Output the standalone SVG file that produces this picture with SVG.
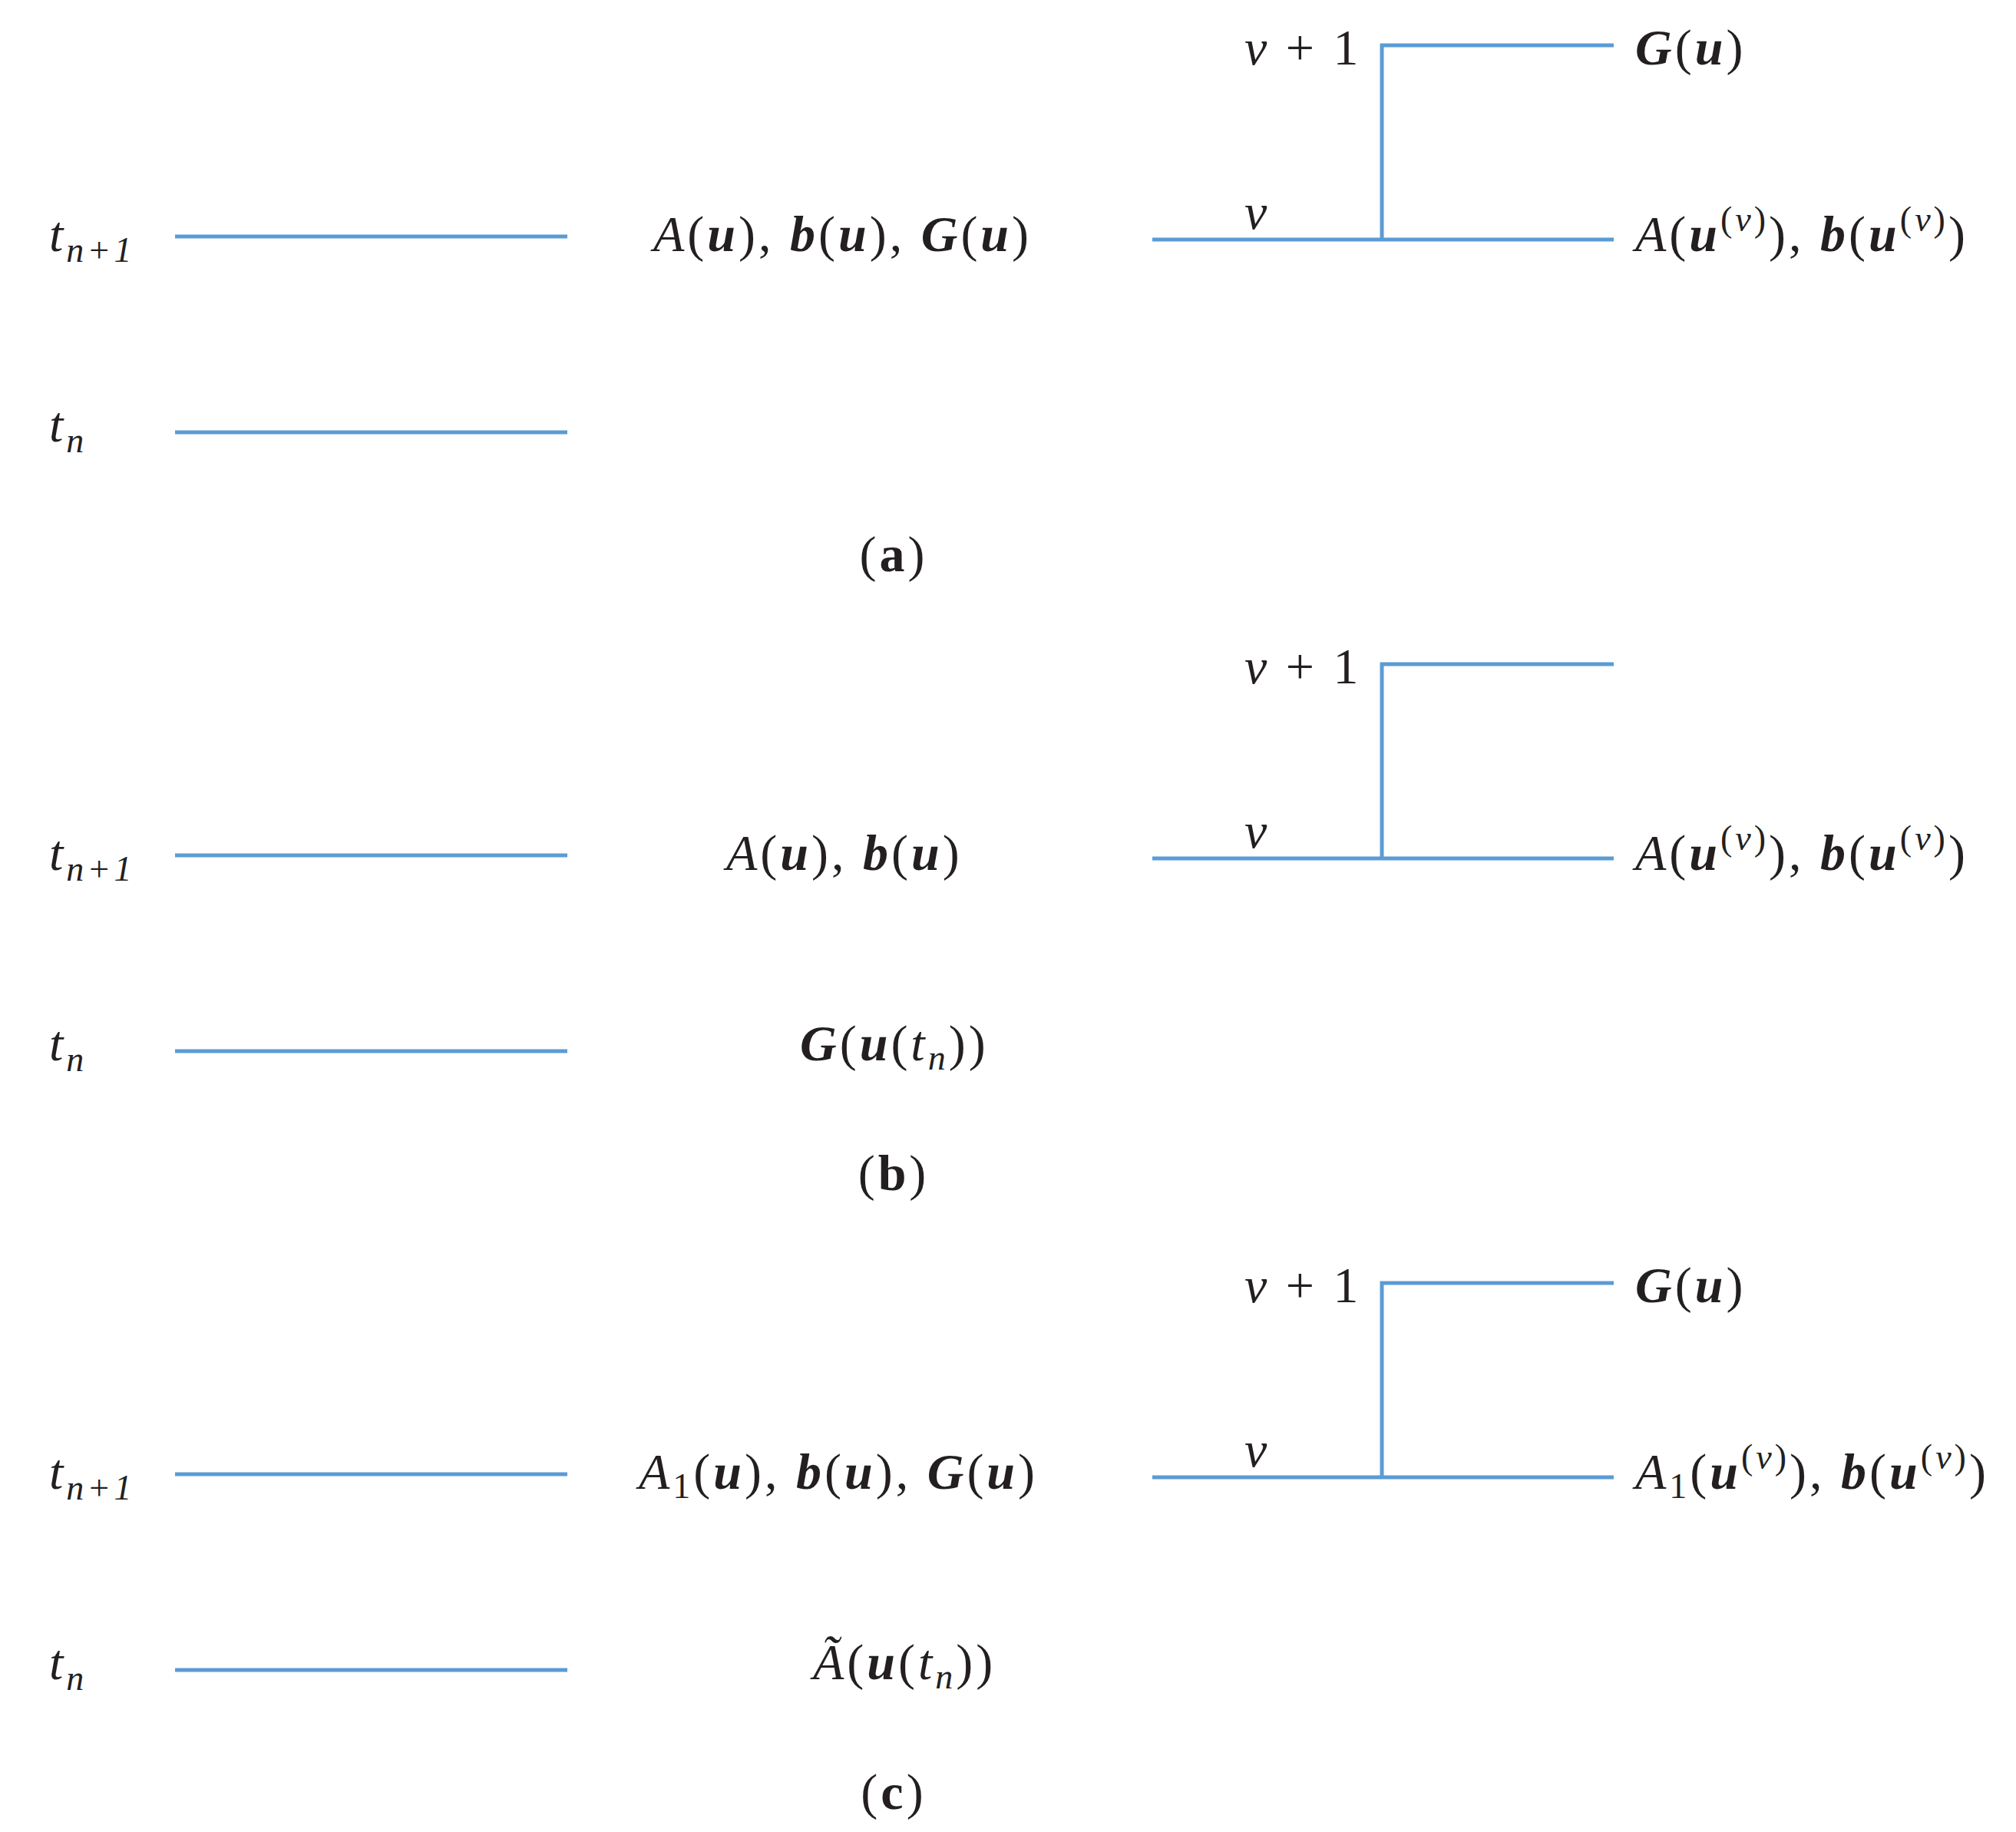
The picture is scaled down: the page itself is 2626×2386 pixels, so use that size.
<svg xmlns="http://www.w3.org/2000/svg" width="2626" height="2386" viewBox="0 0 2626 2386">
<style>
.ln{stroke:#5b9bd5;stroke-width:5;fill:none}
text{font-family:"Liberation Serif","DejaVu Serif",serif;font-size:66px;fill:#231f20;letter-spacing:4px}
.i{font-style:italic}
.b{font-weight:bold;font-style:italic}
.bu{font-weight:bold}
.s{font-size:46px}
</style>
<rect width="2626" height="2386" fill="#fff"/>
<defs>
<g id="frame">
<path class="ln" d="M228 308H739M228 563H739M1501 312H2102M1800 312V59H2102"/>
<text x="64" y="327" class="i">t<tspan class="s" dy="14">n+1</tspan></text>
<text x="64" y="575" class="i">t<tspan class="s" dy="14">n</tspan></text>
<text x="1621" y="84"><tspan class="i">ν</tspan> + 1</text>
<text x="1621" y="298" class="i">ν</text>
</g>
</defs>
<g id="connectors">
<use href="#frame"/>
<use href="#frame" y="806"/>
<use href="#frame" y="1612"/>
</g>
<g id="panel-a">
<text x="851" y="327"><tspan class="i">A</tspan>(<tspan class="b">u</tspan>), <tspan class="b">b</tspan>(<tspan class="b">u</tspan>), <tspan class="b">G</tspan>(<tspan class="b">u</tspan>)</text>
<text x="2130" y="84"><tspan class="b">G</tspan>(<tspan class="b">u</tspan>)</text>
<text x="2130" y="327"><tspan class="i">A</tspan>(<tspan class="b">u</tspan><tspan class="s" dy="-26">(<tspan class="i">ν</tspan>)</tspan><tspan dy="26">), </tspan><tspan class="b">b</tspan>(<tspan class="b">u</tspan><tspan class="s" dy="-26">(<tspan class="i">ν</tspan>)</tspan><tspan dy="26">)</tspan></text>
<text x="1164" y="744" text-anchor="middle">(<tspan class="bu">a</tspan>)</text>
</g>
<g id="panel-b">
<text x="946" y="1133"><tspan class="i">A</tspan>(<tspan class="b">u</tspan>), <tspan class="b">b</tspan>(<tspan class="b">u</tspan>)</text>
<text x="2130" y="1133"><tspan class="i">A</tspan>(<tspan class="b">u</tspan><tspan class="s" dy="-26">(<tspan class="i">ν</tspan>)</tspan><tspan dy="26">), </tspan><tspan class="b">b</tspan>(<tspan class="b">u</tspan><tspan class="s" dy="-26">(<tspan class="i">ν</tspan>)</tspan><tspan dy="26">)</tspan></text>
<text x="1042" y="1381"><tspan class="b">G</tspan>(<tspan class="b">u</tspan>(<tspan class="i">t</tspan><tspan class="s i" dy="12">n</tspan><tspan dy="-12">))</tspan></text>
<text x="1164" y="1550" text-anchor="middle">(<tspan class="bu">b</tspan>)</text>
</g>
<g id="panel-c">
<text x="832" y="1939"><tspan class="i">A</tspan><tspan class="s" dy="12">1</tspan><tspan dy="-12">(</tspan><tspan class="b">u</tspan>), <tspan class="b">b</tspan>(<tspan class="b">u</tspan>), <tspan class="b">G</tspan>(<tspan class="b">u</tspan>)</text>
<text x="2130" y="1696"><tspan class="b">G</tspan>(<tspan class="b">u</tspan>)</text>
<text x="2130" y="1939"><tspan class="i">A</tspan><tspan class="s" dy="12">1</tspan><tspan dy="-12">(</tspan><tspan class="b">u</tspan><tspan class="s" dy="-26">(<tspan class="i">ν</tspan>)</tspan><tspan dy="26">), </tspan><tspan class="b">b</tspan>(<tspan class="b">u</tspan><tspan class="s" dy="-26">(<tspan class="i">ν</tspan>)</tspan><tspan dy="26">)</tspan></text>
<text x="1059" y="2187"><tspan class="i">Ã</tspan>(<tspan class="b">u</tspan>(<tspan class="i">t</tspan><tspan class="s i" dy="12">n</tspan><tspan dy="-12">))</tspan></text>
<text x="1164" y="2356" text-anchor="middle">(<tspan class="bu">c</tspan>)</text>
</g>
</svg>
